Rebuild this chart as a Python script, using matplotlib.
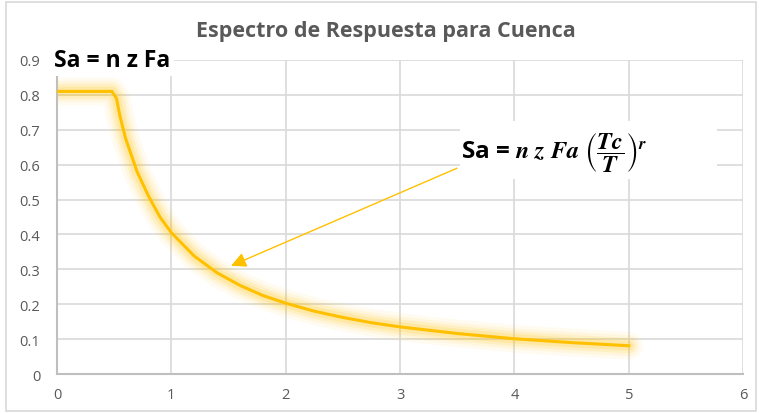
import matplotlib.pyplot as plt
from matplotlib.patches import Rectangle

# periodo T (s) y aceleracion espectral Sa (g)
periodo = [0.0, 0.1, 0.2, 0.3, 0.4, 0.48, 0.52, 0.55, 0.6, 0.7, 0.8, 0.9, 1.0,
           1.2, 1.4, 1.6, 1.8, 2.0, 2.25, 2.5, 2.75, 3.0, 3.5, 4.0, 4.5, 5.0]
sa = [0.81, 0.81, 0.81, 0.81, 0.81, 0.81, 0.79, 0.74, 0.675, 0.58, 0.51, 0.45, 0.405,
      0.338, 0.29, 0.254, 0.225, 0.203, 0.18, 0.162, 0.147, 0.135, 0.116, 0.101, 0.09, 0.081]

x_ticks = [0, 1, 2, 3, 4, 5, 6]
y_ticks = [0, 0.1, 0.2, 0.3, 0.4, 0.5, 0.6, 0.7, 0.8, 0.9]

titulo = 'Espectro de Respuesta para Cuenca'
gris = '#595959'
amarillo = '#ffc000'

plt.rcParams['font.family'] = ['Open Sans', 'DejaVu Sans']
plt.rcParams['mathtext.fontset'] = 'stix'

fig = plt.figure(figsize=(7.59, 4.14), dpi=100)
ax = fig.add_axes([0.0751, 0.0942, 0.904, 0.7585])

# borde exterior del grafico
fig.patches.append(Rectangle((0.008, 0.005), 0.988, 0.988, transform=fig.transFigure,
                             fill=False, edgecolor='#d9d9d9', linewidth=1.2))

# halo difuso alrededor de la linea
for lw, a in [(20, 0.06), (15, 0.08), (11, 0.11), (7, 0.15)]:
    ax.plot(periodo, sa, color=amarillo, linewidth=lw, alpha=a,
            solid_capstyle='round', solid_joinstyle='round')
ax.plot(periodo, sa, color=amarillo, linewidth=2.2, solid_joinstyle='round', zorder=3)

ax.set_xlim(0, 6)
ax.set_ylim(0, 0.9)
ax.set_xticks(x_ticks)
ax.set_yticks(y_ticks)
ax.set_xticklabels([str(v) for v in x_ticks])
ax.set_yticklabels(['0'] + [f'{v:.1f}' for v in y_ticks[1:]])
ax.tick_params(length=0, labelsize=10.5, labelcolor=gris)
ax.tick_params(axis='y', pad=12)
ax.tick_params(axis='x', pad=9)
ax.grid(True, color='#d9d9d9', linewidth=1.2)
ax.set_axisbelow(True)
for s in ['top', 'right']:
    ax.spines[s].set_visible(False)
for s in ['left', 'bottom']:
    ax.spines[s].set_color('#bfbfbf')
    ax.spines[s].set_linewidth(1.5)

fig.text(0.509, 0.925, titulo, ha='center', va='center', fontsize=15.5,
         fontweight='bold', color=gris)

# anotaciones de las ecuaciones
ax.text(-0.03, 0.9, 'Sa = n z Fa', fontsize=16.5, fontweight='bold', color='black',
        ha='left', va='center', zorder=5,
        bbox=dict(facecolor='white', edgecolor='none', pad=3))

# cuadro blanco de la segunda ecuacion
ax.add_patch(Rectangle((0.587, 0.621), 0.375, 0.185, transform=ax.transAxes,
                       facecolor='white', edgecolor='none', zorder=4.5))
ax.text(3.53, 0.635,
        r'Sa = $\boldsymbol{n\ z\ Fa}\ \left(\dfrac{\boldsymbol{Tc}}{\boldsymbol{T}}\right)^{\boldsymbol{r}}$',
        fontsize=17.5, fontweight='bold', color='black', ha='left', va='center', zorder=5)

ax.annotate('', xy=(1.5, 0.307), xytext=(3.52, 0.593),
            arrowprops=dict(arrowstyle='-|>,head_length=0.9,head_width=0.45',
                            color=amarillo, linewidth=1.0), zorder=4)

fig.savefig('out.png', dpi=100)
